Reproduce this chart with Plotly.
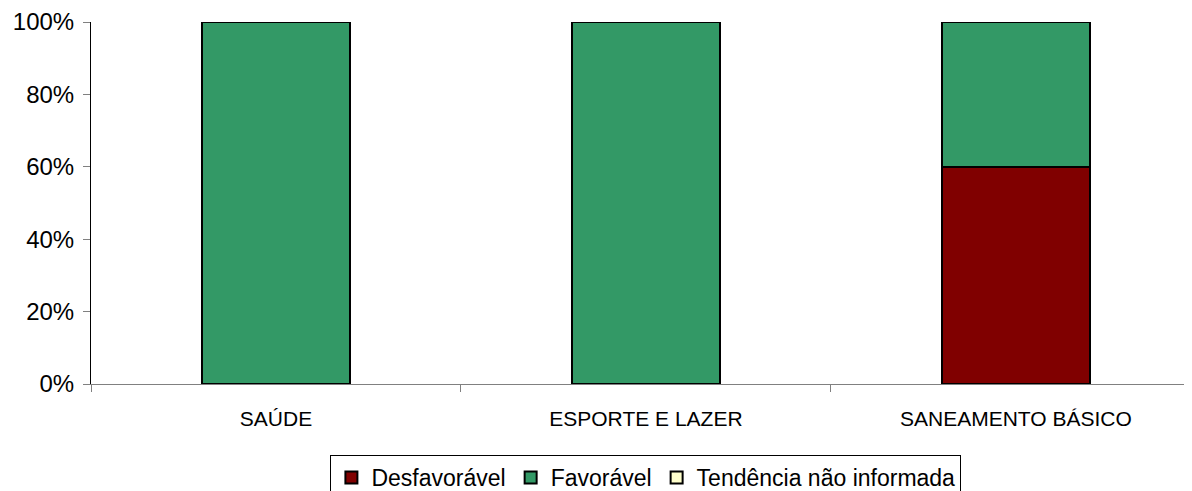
import plotly.graph_objects as go

categories = ["SAÚDE", "ESPORTE E LAZER", "SANEAMENTO BÁSICO"]
desfavoravel = [0, 0, 60]
favoravel = [100, 100, 40]
nao_informada = [0, 0, 0]

series = [
    ("Desfavorável", desfavoravel, "#800000"),
    ("Favorável", favoravel, "#339966"),
    ("Tendência não informada", nao_informada, "#FFFFCC"),
]

fig = go.Figure()
for name, vals, color in series:
    fig.add_trace(go.Bar(
        x=categories, y=vals, name=name,
        marker=dict(color=color, line=dict(color="black", width=2)),
        width=0.4,
    ))

fig.update_layout(
    barmode="stack",
    width=1184, height=483,
    margin=dict(l=83, r=0, t=14, b=107, autoexpand=False),
    plot_bgcolor="white", paper_bgcolor="white",
    font=dict(family="Liberation Sans, Arial, sans-serif", color="black"),
    legend=dict(
        orientation="h", x=0.504, xanchor="center", y=-0.196, yanchor="top",
        bordercolor="black", borderwidth=1, font=dict(size=23),
        itemwidth=30, traceorder="normal",
    ),
    showlegend=True,
)
fig.update_yaxes(
    range=[0, 100], dtick=20, ticksuffix="%", showgrid=False, zeroline=False,
    showline=True, linecolor="black", linewidth=1,
    ticks="outside", ticklen=7, tickcolor="#808080",
    tickfont=dict(size=24), automargin=False, ticklabelstandoff=4,
)
fig.update_xaxes(
    range=[-0.5, 2.476], showgrid=False,
    showline=True, linecolor="#808080", linewidth=1,
    ticks="outside", tickson="boundaries", ticklen=7, tickcolor="#808080",
    tickfont=dict(size=21), automargin=False, ticklabelstandoff=16,
)

fig.write_html("out.html")
